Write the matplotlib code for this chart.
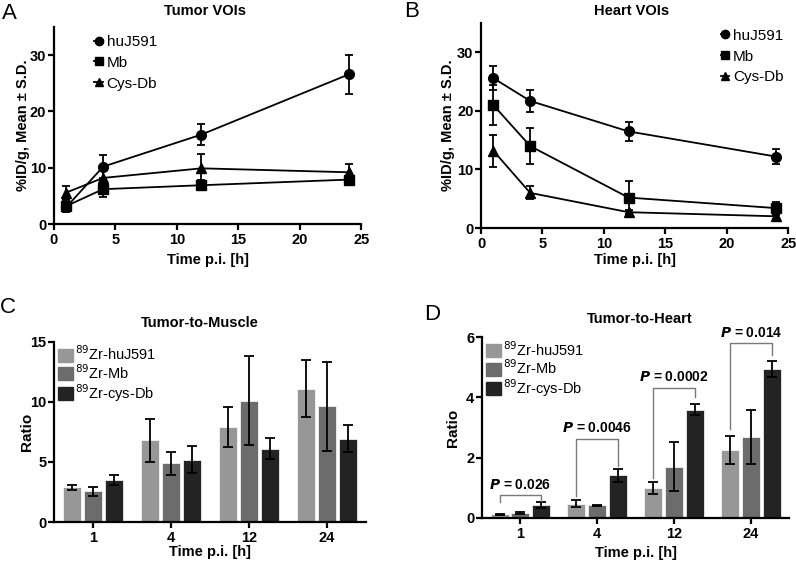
import numpy as np
import matplotlib
matplotlib.use("Agg")
from matplotlib import pyplot as plt
from matplotlib.patches import Patch
from matplotlib.lines import Line2D

plt.rcParams['font.family'] = ['Liberation Sans', 'DejaVu Sans']

# time points (h)
time = [1, 4, 12, 24]
series = ["huJ591", "Mb", "Cys-Db"]

# Tumor VOIs (%ID/g)
tumor_mean = {"huJ591": [3.0, 10.2, 15.9, 26.6],
              "Mb": [3.2, 6.2, 6.9, 7.9],
              "Cys-Db": [5.6, 8.2, 9.9, 9.2]}
tumor_sd = {"huJ591": [0.8, 2.0, 1.8, 3.5],
            "Mb": [1.0, 1.4, 0.9, 0.6],
            "Cys-Db": [1.1, 1.5, 2.5, 1.4]}

# Heart VOIs (%ID/g)
heart_mean = {"huJ591": [25.6, 21.7, 16.5, 12.2],
              "Mb": [21.0, 14.0, 5.2, 3.4],
              "Cys-Db": [13.2, 6.0, 2.7, 2.0]}
heart_sd = {"huJ591": [2.1, 1.9, 1.6, 1.3],
            "Mb": [3.4, 3.1, 2.8, 1.1],
            "Cys-Db": [2.7, 1.1, 0.3, 0.4]}

# ratios
groups = ["1", "4", "12", "24"]
bar_labels = ["$^{89}$Zr-huJ591", "$^{89}$Zr-Mb", "$^{89}$Zr-cys-Db"]
muscle_mean = [[2.9, 6.8, 7.9, 11.1],
               [2.55, 4.9, 10.1, 9.65],
               [3.5, 5.2, 6.1, 6.95]]
muscle_sd = [[0.2, 1.8, 1.65, 2.35],
             [0.35, 0.95, 3.7, 3.7],
             [0.42, 1.1, 0.88, 1.15]]
heart_ratio = [[0.12, 0.48, 1.0, 2.25],
               [0.16, 0.42, 1.7, 2.68],
               [0.44, 1.42, 3.6, 4.94]]
heart_ratio_sd = [[0.02, 0.11, 0.2, 0.47],
                  [0.04, 0.02, 0.82, 0.9],
                  [0.1, 0.22, 0.19, 0.26]]
p_values = ["0.026", "0.0046", "0.0002", "0.014"]
p_top = [0.75, 2.62, 4.33, 5.8]
p_left = [0.52, 0.72, 1.32, 2.95]
p_right = [0.55, 1.74, 4.02, 5.42]

markers = {"huJ591": "o", "Mb": "s", "Cys-Db": "^"}
bar_colors = ["#979797", "#6c6c6c", "#232323"]

fig = plt.figure(figsize=(7.96, 5.63), dpi=100)
axA = fig.add_axes([0.0678, 0.602, 0.386, 0.350])
axB = fig.add_axes([0.6043, 0.595, 0.386, 0.364])
axC = fig.add_axes([0.0678, 0.0728, 0.392, 0.320])
axD = fig.add_axes([0.6055, 0.080, 0.386, 0.321])


def style(ax):
    for s in ["top", "right"]:
        ax.spines[s].set_visible(False)
    for s in ["left", "bottom"]:
        ax.spines[s].set_linewidth(1.6)
    ax.tick_params(width=1.6, length=4, labelsize=10.5)
    ax.tick_params(axis="y", pad=1.5)
    ax.tick_params(axis="x", pad=2.5)
    for lab in ax.get_xticklabels() + ax.get_yticklabels():
        lab.set_fontweight("bold")


def place_labels(ax, xl, yl):
    ax.xaxis.set_label_coords(0.5, xl)
    ax.xaxis.label.set_va("center")
    ax.yaxis.set_label_coords(yl, 0.5)
    ax.yaxis.label.set_va("center")


def line_panel(ax, means, sds):
    for name in series:
        ax.errorbar(time, means[name], yerr=sds[name], color="black",
                    marker=markers[name], markersize=7 if name != "Cys-Db" else 7.5,
                    lw=1.3, elinewidth=1.3, capsize=3.2, capthick=1.3, label=name)
    ax.set_xlim(0, 25)
    ax.set_ylim(0, 35)
    ax.set_xticks([0, 5, 10, 15, 20, 25])
    ax.set_yticks([0, 10, 20, 30])
    ax.set_xlabel("Time p.i. [h]", fontsize=10.5, fontweight="bold")
    ax.set_ylabel("%ID/g, Mean ± S.D.", fontsize=10.5, fontweight="bold")
    style(ax)


line_panel(axA, tumor_mean, tumor_sd)
line_panel(axB, heart_mean, heart_sd)
place_labels(axA, -0.18, -0.101)
place_labels(axB, -0.11, -0.107)
axB.xaxis.set_label_coords(0.5, -0.156)

handles = [Line2D([], [], color="black", marker=markers[n], markersize=6, lw=1.3)
           for n in series]
axA.legend(handles, series, loc="upper left", bbox_to_anchor=(0.087, 1.03), frameon=False,
           fontsize=11, handlelength=0.55, handletextpad=0.25, labelspacing=0.45)
axB.legend(handles, series, loc="upper right", bbox_to_anchor=(1.03, 1.04), frameon=False,
           fontsize=11, handlelength=0.55, handletextpad=0.25, labelspacing=0.45)


def bar_panel(ax, means, sds, ymax, yticks):
    x = np.arange(len(groups))
    w = 0.235
    for i in range(3):
        ax.bar(x + (i - 1) * 0.27, means[i], w, yerr=sds[i], color=bar_colors[i],
               edgecolor="white", linewidth=0.5,
               error_kw=dict(elinewidth=1.3, capsize=3.5, capthick=1.3, ecolor="black"),
               label=bar_labels[i])
    ax.set_xlim(-0.5, 3.5)
    ax.set_ylim(0, ymax)
    ax.set_xticks(x)
    ax.set_xticklabels(groups)
    ax.set_yticks(yticks)
    ax.set_xlabel("Time p.i. [h]", fontsize=10.5, fontweight="bold")
    ax.set_ylabel("Ratio", fontsize=11, fontweight="bold")
    style(ax)
    hs = [Patch(color=c) for c in bar_colors]
    ax.legend(hs, bar_labels, loc="upper left", bbox_to_anchor=(0.0, 1.01), frameon=False,
              fontsize=10.5, handlelength=1.0, handleheight=1.0, handletextpad=0.15,
              labelspacing=0.0, borderaxespad=0.0, borderpad=0.3)
    return x


xC = bar_panel(axC, muscle_mean, muscle_sd, 15, [0, 5, 10, 15])
xD = bar_panel(axD, heart_ratio, heart_ratio_sd, 6, [0, 2, 4, 6])
place_labels(axC, -0.165, -0.087)
place_labels(axD, -0.193, -0.094)

for i in range(4):
    xl = xD[i] - 0.27
    xr = xD[i] + 0.27
    axD.plot([xl, xl, xr, xr], [p_left[i], p_top[i], p_top[i], p_right[i]],
             color="#7a7a7a", lw=1.0, clip_on=False)
    axD.text(xD[i], p_top[i] + 0.12, r"$\mathbfit{P}$ = " + p_values[i],
             ha="center", va="bottom", fontsize=10, fontweight="bold", clip_on=False)

# panel titles
for txt, xp, yp in [("Tumor VOIs", 205, 11), ("Heart VOIs", 632, 11),
                    ("Tumor-to-Muscle", 200, 323), ("Tumor-to-Heart", 640, 319)]:
    fig.text(xp / 796, 1 - yp / 563, txt, fontsize=10.5, fontweight="bold",
             ha="center", va="center")

for lab, xp, yp in [("A", 0.003, 0.995), ("B", 0.508, 0.998), ("C", 0.0, 0.472), ("D", 0.533, 0.46)]:
    fig.text(xp, yp, lab, fontsize=16, ha="left", va="top")

fig.savefig("out.png", dpi=100)
